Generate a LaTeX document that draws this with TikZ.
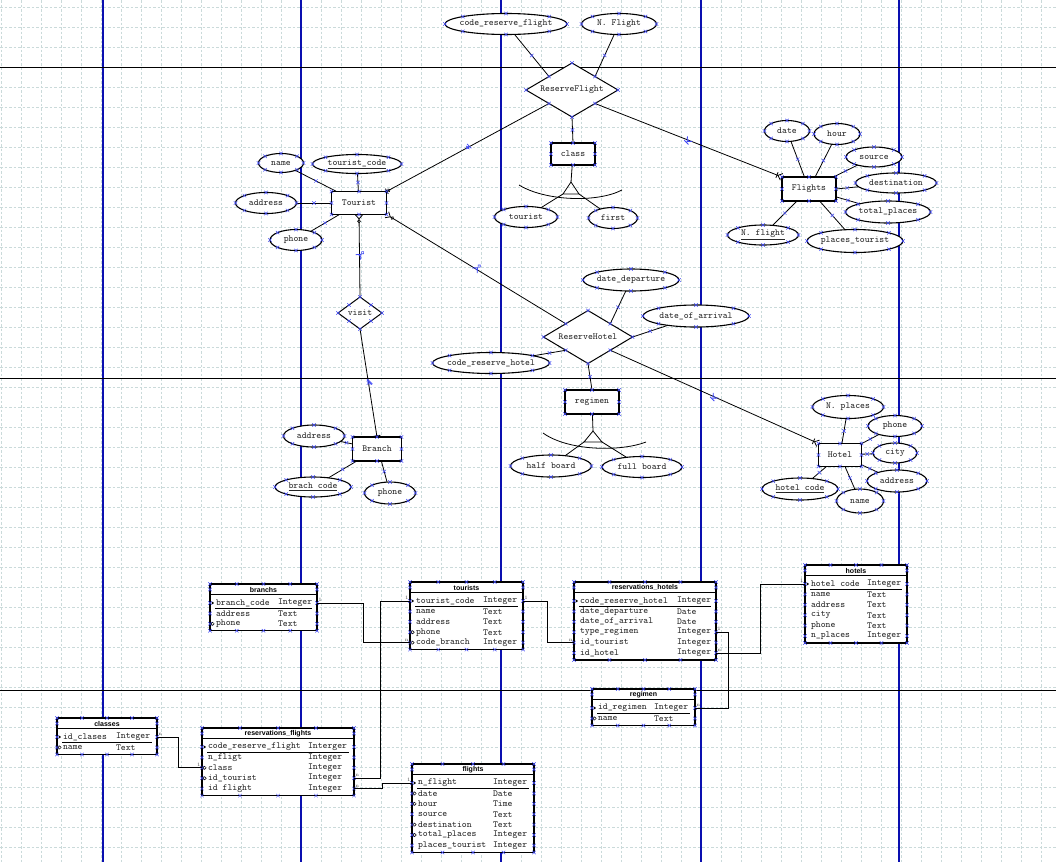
\documentclass[tikz,border=0pt]{standalone}
\usepackage{fontspec}
\setsansfont{Liberation Sans}
\usetikzlibrary{shapes.geometric,arrows.meta,calc,decorations.markings}

\definecolor{gridc}{HTML}{CADADA}
\definecolor{pagev}{HTML}{0A0FB0}
\definecolor{hdl}{HTML}{3F48F5}
\definecolor{txt}{HTML}{262626}

\newcommand{\ertxt}{\ttfamily\fontsize{9.3}{10}\selectfont}
\newcommand{\cbox}[1]{\makebox[0pt]{#1}}
\newcommand{\keyu}[1]{\makebox[0pt]{\underline{#1}}}
% small blue selection handle
\newcommand{\hx}[1]{\draw[hxs] #1 +(-1.7,-1.7) -- +(1.7,1.7) +(-1.7,1.7) -- +(1.7,-1.7);}
\def\pkmark{p}
\def\fkmark{f}

% database table: name, left, top, width, type column offset, rows, title, rows list
\newcommand{\dbtab}[8]{%
  \pgfmathsetmacro{\tabh}{26+10.4*(#6-1)}%
  \node[tab, minimum width=#4, minimum height=\tabh, anchor=north west] (#1) at (#2,#3) {};
  \node[tabttl] (#1-title) at ($(#1.north)+(0,5.5)$) {#7};
  \draw[line width=0.9pt] ($(#1.north west)+(0,10.5)$) -- ($(#1.north east)+(0,10.5)$);
  \draw[line width=0.9pt] ($(#1.north west)+(5,24.3)$) -- ($(#1.north east)+(-5,24.3)$);
  \foreach \q in {0,0.25,0.5,0.75,1}{%
    \hx{($(#1.north west)!\q!(#1.north east)$)}
    \hx{($(#1.south west)!\q!(#1.south east)$)}}
  \hx{($(#1.north west)+(0,5.5)$)}
  \hx{($(#1.north east)+(0,5.5)$)}
  \foreach \f/\t/\k [count=\i] in {#8}{%
    \pgfmathsetmacro{\ry}{#3+19+10.4*(\i-1)}
    \coordinate (#1-\i-l) at (#2,\ry);
    \coordinate (#1-\i-r) at ({#2+#4},\ry);
    \node[tabtxt,anchor=west] (#1-\i-n) at ({#2+6},\ry) {\f};
    \node[tabtxt,anchor=west] (#1-\i-ty) at ({#2+#5},\ry) {\t};
    \hx{(#1-\i-l)}
    \hx{(#1-\i-r)}
    \ifx\k\pkmark \fill ($(#1-\i-l)+(2.6,0)$) circle (1.3); \fi
    \ifx\k\fkmark \draw[line width=0.5pt] ($(#1-\i-l)+(1,0)$) -- ++(1.6,-1.6) -- ++(1.6,1.6) -- ++(-1.6,1.6) -- cycle; \fi
  }%
}

\begin{document}
\begin{tikzpicture}[x=1pt,y=-1pt,
  attr/.style 2 args={ellipse, draw, fill=white, line width=1.1pt, inner sep=0pt, outer sep=0pt,
      minimum width=#1, minimum height=#2, font=\ertxt, text=txt},
  ent/.style 2 args={rectangle, draw, fill=white, line width=1.2pt, inner sep=0pt, outer sep=0pt,
      minimum width=#1, minimum height=#2, font=\ertxt, text=txt},
  rel/.style 2 args={diamond, draw, fill=white, line width=1pt, inner sep=0pt, outer sep=0pt,
      minimum width=#1, minimum height=#2, font=\ertxt, text=txt},
  tab/.style={rectangle, draw, fill=white, line width=1.1pt, inner sep=0pt, outer sep=0pt},
  tabtxt/.style={font=\ertxt, text=txt, inner sep=0pt, outer sep=0pt},
  tabttl/.style={font=\sffamily\bfseries\fontsize{7}{8}\selectfont, inner sep=0pt},
  card/.style={font=\rmfamily\fontsize{5}{5}\selectfont, text=black!70, inner sep=1pt},
  hxs/.style={draw=hdl, line width=0.5pt},
  gridl/.style={draw=gridc, line width=0.6pt, dash pattern=on 2.5pt off 2pt},
  pagevl/.style={draw=pagev, line width=1.1pt},
  pagehl/.style={draw=black, line width=1pt},
  link/.style={draw=black, line width=0.8pt},
  tlink/.style={draw=black, line width=0.9pt},
  midx/.style={postaction={decorate, decoration={markings, mark=at position 0.5 with
      {\pgftransformresetnontranslations \draw[hxs] (-1.7,-1.7) -- (1.7,1.7) (-1.7,1.7) -- (1.7,-1.7);}}}},
  zeroone/.style={-{Circle[open,length=3.5pt,width=3.5pt,line width=0.6pt] Bar[width=6pt,line width=0.8pt]}},
  crowend/.style={-{Bar[width=6pt,line width=0.8pt] Straight Barb[reversed,length=4pt,width=7pt,line width=0.8pt]}},
  crowstart/.style={{Straight Barb[reversed,length=4pt,width=7pt,line width=0.8pt] Circle[open,length=3.5pt,width=3.5pt,line width=0.6pt]}-},
  barend/.style={-{Bar[width=7pt,line width=0.8pt] Bar[width=7pt,line width=0.8pt]}}
]
\useasboundingbox (0,0) rectangle (1056,862);
\fill[white] (0,0) rectangle (1056,862);

% background grid and page boundaries
\foreach \gx in {1,21,...,1041} \draw[gridl] (\gx,0) -- (\gx,862);
\foreach \gy in {7,27,...,847} \draw[gridl] (0,\gy) -- (1056,\gy);
\foreach \px in {103,301,501,701,899} \draw[pagevl] (\px,0) -- (\px,862);
\foreach \py in {67,378,690} \draw[pagehl] (0,\py) -- (1056,\py);

% ---------- entity-relationship model ----------
\node[attr={122}{21}] (crf) at (506,24) {\cbox{code\_reserve\_flight}};
\node[attr={75}{21}] (nfl) at (619,24) {\cbox{N. Flight}};
\node[rel={92}{54}] (rf) at (572,90) {\cbox{ReserveFlight}};
\node[ent={44}{22}] (cls) at (573,154) {\cbox{class}};
\node[attr={63}{21}] (ctour) at (526,217) {\cbox{tourist}};
\node[attr={49}{21}] (cfirst) at (613,218) {\cbox{first}};

\node[ent={55}{23}] (tour) at (359,203) {\cbox{Tourist}};
\node[attr={45}{19}] (tname) at (281,163) {\cbox{name}};
\node[attr={89}{19}] (tcode) at (357,164) {\keyu{tourist\_code}};
\node[attr={61}{21}] (taddr) at (266,203) {\cbox{address}};
\node[attr={52}{21}] (tphone) at (296,240) {\cbox{phone}};
\node[rel={44}{32}] (visit) at (360,313) {\cbox{visit}};

\node[ent={49}{24}] (branch) at (377,449) {\cbox{Branch}};
\node[attr={61}{22}] (baddr) at (314,436) {\cbox{address}};
\node[attr={76}{20}] (bcode) at (313,487) {\keyu{brach code}};
\node[attr={51}{22}] (bphone) at (390,493) {\cbox{phone}};

\node[ent={54}{24}] (fl) at (809,189) {\cbox{Flights}};
\node[attr={45}{21}] (fdate) at (787,131) {\cbox{date}};
\node[attr={46}{21}] (fhour) at (837,134) {\cbox{hour}};
\node[attr={56}{20}] (fsrc) at (874,157) {\cbox{source}};
\node[attr={81}{20}] (fdest) at (896,183) {\cbox{destination}};
\node[attr={85}{22}] (ftot) at (888,212) {\cbox{total\_places}};
\node[attr={96}{23}] (fpt) at (855,241) {\cbox{places\_tourist}};
\node[attr={71}{20}] (fnf) at (763,235) {\keyu{N. flight}};

\node[rel={89}{53}] (rh) at (588,337) {\cbox{ReserveHotel}};
\node[attr={96}{22}] (rdep) at (631,280) {\cbox{date\_departure}};
\node[attr={106}{22}] (rarr) at (696,316) {\cbox{date\_of\_arrival}};
\node[attr={117}{21}] (rcode) at (491,363) {\cbox{code\_reserve\_hotel}};
\node[ent={54}{24}] (reg) at (592,402) {\cbox{regimen}};
\node[attr={81}{22}] (rhalf) at (551,466) {\cbox{half board}};
\node[attr={80}{21}] (rfull) at (642,467) {\cbox{full board}};

\node[ent={43}{23}] (hot) at (840,455) {\cbox{Hotel}};
\node[attr={71}{23}] (hnp) at (848,407) {\cbox{N. places}};
\node[attr={54}{21}] (hph) at (895,426) {\cbox{phone}};
\node[attr={44}{20}] (hcity) at (895,453) {\cbox{city}};
\node[attr={60}{22}] (haddr) at (897,481) {\cbox{address}};
\node[attr={47}{24}] (hname) at (860,501) {\cbox{name}};
\node[attr={76}{22}] (hcode) at (800,489) {\keyu{hotel code}};

% relationship links
\draw[link,midx] (crf) -- (rf.north west);
\draw[link,midx] (nfl) -- (rf.north east);
\draw[link,midx] (rf.south) -- (cls.north);
\draw[link,midx,zeroone] (rf.south west) -- (tour.north east);
\draw[link,midx,crowend] (rf.south east) -- (fl.north west);

\coordinate (ctri) at (571,182);
\draw[link] (cls) -- (ctri);
\draw[link] (ctri) -- ++(-8,12) coordinate (ctl) -- ++(16,0) coordinate (ctr) -- cycle;
\draw[link] (ctl) -- (ctour);
\draw[link] (ctr) -- (cfirst);
\draw[link] (519,185) .. controls (545,201) and (597,203) .. (622,190);

\draw[link,midx] (tname) -- (tour);
\draw[link,midx] (tcode) -- (tour);
\draw[link,midx] (taddr) -- (tour);
\draw[link,midx] (tphone) -- (tour);
\draw[link,midx,crowstart] (tour.south) -- (visit.north);
\draw[link,midx,barend] (visit.south) -- (branch.north);
\draw[link,midx,crowstart] (tour.south east) -- (rh.north west);

\draw[link,midx] (baddr) -- (branch);
\draw[link,midx] (bcode) -- (branch);
\draw[link,midx] (bphone) -- (branch.-70);

\draw[link,midx] (fdate) -- (fl);
\draw[link,midx] (fhour) -- (fl);
\draw[link,midx] (fsrc) -- (fl);
\draw[link,midx] (fdest) -- (fl.east);
\draw[link,midx] (ftot) -- (fl);
\draw[link,midx] (fpt) -- (fl);
\draw[link,midx] (fnf) -- (fl);

\draw[link,midx] (rdep) -- (rh.north east);
\draw[link,midx] (rarr) -- (rh.east);
\draw[link,midx] (rcode) -- (rh.south west);
\draw[link,midx,crowend] (rh.south east) -- (hot.north west);
\draw[link,midx] (rh.south) -- (reg.north);

\coordinate (rtri) at (593,431);
\draw[link] (reg) -- (rtri);
\draw[link] (rtri) -- ++(-9,11) coordinate (rtl) -- ++(18,0) coordinate (rtr) -- cycle;
\draw[link] (rtl) -- (rhalf);
\draw[link] (rtr) -- (rfull);
\draw[link] (543,433) .. controls (568,451) and (620,452) .. (646,442);

\draw[link,midx] (hnp) -- (hot);
\draw[link,midx] (hph) -- (hot);
\draw[link,midx] (hcity) -- (hot);
\draw[link,midx] (haddr) -- (hot);
\draw[link,midx] (hname) -- (hot);
\draw[link,midx] (hcode) -- (hot);

% selection handles on the model shapes
\foreach \n in {crf,nfl,rf,cls,ctour,cfirst,tour,tname,tcode,taddr,tphone,visit,
    branch,baddr,bcode,bphone,fl,fdate,fhour,fsrc,fdest,ftot,fpt,fnf,
    rh,rdep,rarr,rcode,reg,rhalf,rfull,hot,hnp,hph,hcity,haddr,hname,hcode}{%
  \foreach \a in {north,south,east,west,north east,north west,south east,south west}{%
    \hx{(\n.\a)}}}

% ---------- relational tables ----------
\dbtab{branchs}{210}{584}{107}{68}{3}{branchs}%
  {branch\_code/Integer/p,address/Text/n,phone/Text/f}
\dbtab{tourists}{410}{582}{113}{73}{5}{tourists}%
  {tourist\_code/Integer/p,name/Text/n,address/Text/n,phone/Text/f,code\_branch/Integer/f}
\dbtab{reshot}{574}{582}{142}{103}{6}{reservations\_hotels}%
  {code\_reserve\_hotel/Integer/p,date\_departure/Date/n,date\_of\_arrival/Date/n,type\_regimen/Integer/n,id\_tourist/Integer/n,id\_hotel/Integer/n}
\dbtab{hotels}{805}{565}{102}{62}{6}{hotels}%
  {hotel code/Integer/p,name/Text/n,address/Text/n,city/Text/n,phone/Text/n,n\_places/Integer/n}
\dbtab{regimen}{592}{689}{103}{62}{2}{regimen}%
  {id\_regimen/Integer/p,name/Text/f}
\dbtab{classes}{57}{718}{100}{59}{2}{classes}%
  {id\_clases/Integer/p,name/Text/f}
\dbtab{resfl}{202}{728}{152}{106}{5}{reservations\_flights}%
  {code\_reserve\_flight/Interger/p,n\_fligt/Integer/n,class/Integer/f,id\_tourist/Integer/f,id flight/Integer/n}
\dbtab{flights}{412}{764}{122}{81}{7}{flights}%
  {n\_flight/Integer/p,date/Date/f,hour/Time/f,source/Text/n,destination/Text/f,total\_places/Integer/f,places\_tourist/Integer/n}

% foreign key links
\draw[tlink] (branchs-1-r) node[card,anchor=south west]{1} -- ++(46,0) |- (tourists-5-l) node[card,anchor=south east]{n};
\draw[tlink] (tourists-1-l) node[card,anchor=south east]{1} -- ++(-30,0) |- (resfl-4-r) node[card,anchor=south west]{n};
\draw[tlink] (tourists-1-r) node[card,anchor=south west]{1} -- ++(24,0) |- (reshot-5-l) node[card,anchor=south east]{n};
\draw[tlink] (reshot-6-r) node[card,anchor=south west]{n} -- ++(44,0) |- (hotels-1-l) node[card,anchor=south east]{1};
\draw[tlink] (reshot-4-r) node[card,anchor=south west]{1} -- ++(12,0) |- (regimen-1-r) node[card,anchor=south west]{n};
\draw[tlink] (classes-1-r) node[card,anchor=south west]{n} -- ++(21,0) |- (resfl-3-l) node[card,anchor=south east]{1};
\draw[tlink] (resfl-5-r) node[card,anchor=south west]{n} -- ++(28,0) |- (flights-1-l) node[card,anchor=south east]{1};
\end{tikzpicture}
\end{document}
